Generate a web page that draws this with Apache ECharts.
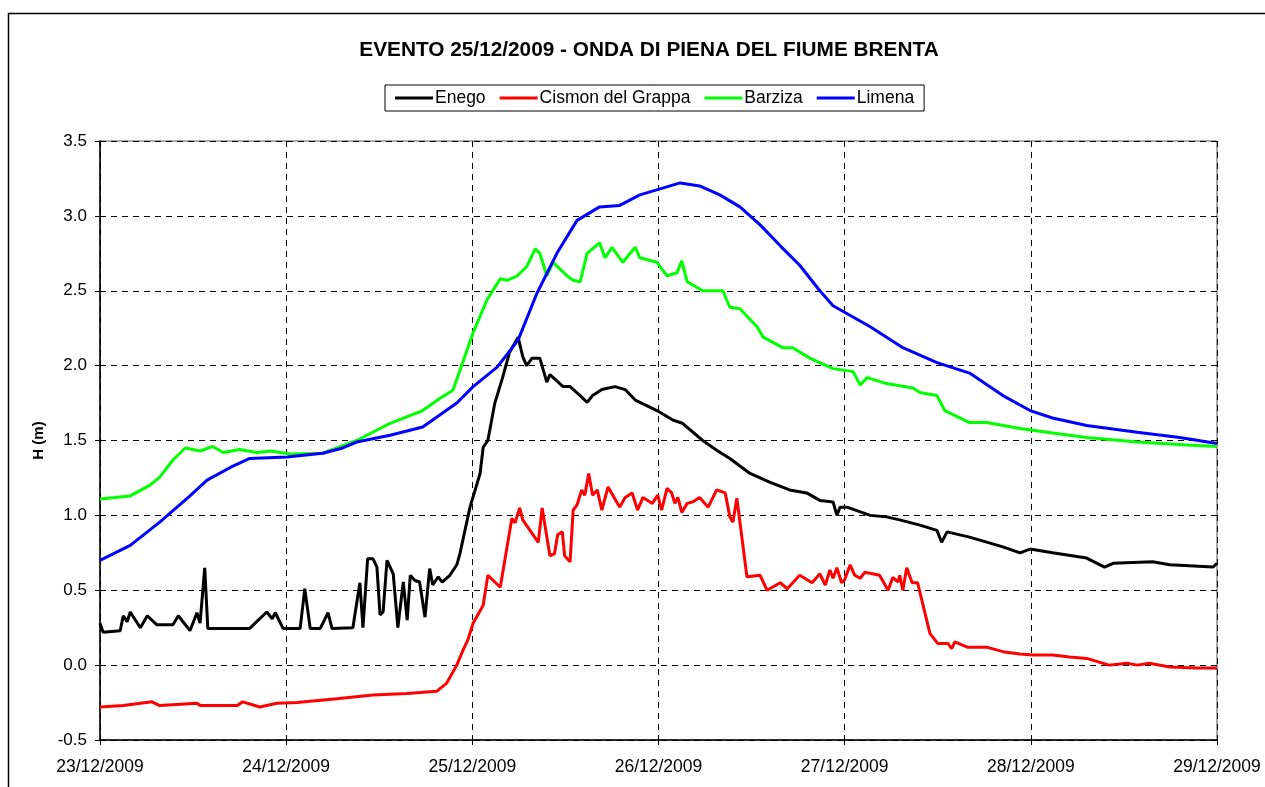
<!DOCTYPE html>
<html>
<head>
<meta charset="utf-8">
<title>Evento 25/12/2009</title>
<script src="https://cdn.jsdelivr.net/npm/echarts@6/dist/echarts.min.js"></script>
<style>
  html, body { margin: 0; padding: 0; background: #fff; }
  #chart { width: 1265px; height: 787px; }
</style>
</head>
<body>
<div id="chart"></div>
<script>
// x in ore dall'inizio (23/12/2009 00:00), y = livello H (m)
var dateLabels = ['23/12/2009', '24/12/2009', '25/12/2009', '26/12/2009', '27/12/2009', '28/12/2009', '29/12/2009'];
var seriesNames = ['Enego', 'Cismon del Grappa', 'Barziza', 'Limena'];

var enego = [[0,0.28],[0.4,0.22],[2.6,0.23],[3.0,0.33],[3.5,0.29],[3.9,0.355],[5.2,0.25],[6.1,0.33],[7.3,0.27],[9.4,0.27],
  [10.1,0.33],[11.6,0.23],[12.5,0.35],[12.9,0.28],[13.5,0.65],[13.9,0.245],[19.3,0.245],[21.5,0.355],[22.2,0.31],[22.6,0.35],
  [23.6,0.245],[25.8,0.245],[26.4,0.51],[27.1,0.245],[28.4,0.245],[29.4,0.35],[29.9,0.245],[32.6,0.25],[33.5,0.55],[33.9,0.25],
  [34.5,0.71],[35.2,0.71],[35.7,0.655],[36.1,0.335],[36.5,0.355],[37.0,0.70],[37.8,0.61],[38.4,0.25],[39.1,0.555],[39.6,0.30],
  [40.0,0.60],[40.6,0.565],[41.2,0.555],[41.9,0.32],[42.5,0.645],[42.9,0.535],[43.6,0.59],[44.1,0.555],[45.1,0.60],[46.0,0.67],
  [46.4,0.745],[47.7,1.055],[49.0,1.28],[49.4,1.455],[50.0,1.50],[50.9,1.75],[51.9,1.92],[52.8,2.09],[53.9,2.19],[54.5,2.06],
  [55.0,2.00],[55.7,2.05],[56.7,2.05],[57.6,1.89],[58.0,1.94],[59.7,1.86],[60.6,1.86],[61.9,1.80],[62.8,1.755],[63.5,1.80],
  [64.7,1.84],[66.4,1.86],[67.7,1.84],[69.0,1.77],[71.8,1.70],[73.9,1.635],[75.1,1.615],[77.7,1.50],[79.5,1.435],[81.2,1.38],
  [83.8,1.28],[86.4,1.22],[88.9,1.17],[91.1,1.15],[92.8,1.10],[94.5,1.09],[95.0,1.00],[95.4,1.055],[96.3,1.055],[99.3,1.00],
  [101.4,0.99],[103.1,0.97],[105.7,0.935],[107.9,0.90],[108.5,0.82],[109.2,0.89],[112.1,0.855],[116.4,0.79],[118.6,0.75],
  [119.9,0.775],[122.8,0.75],[127.2,0.715],[129.5,0.655],[130.6,0.68],[135.7,0.69],[137.9,0.67],[143.5,0.655],[144,0.68]];

var cismon = [[0,-0.28],[3.0,-0.27],[6.7,-0.245],[7.7,-0.27],[12.5,-0.255],[12.9,-0.27],[17.7,-0.27],[18.4,-0.245],[20.6,-0.28],
  [22.8,-0.255],[25.4,-0.25],[30.5,-0.225],[35.2,-0.20],[39.6,-0.19],[43.4,-0.175],[44.7,-0.12],[46.0,0.0],[46.8,0.10],[47.4,0.165],
  [48.1,0.28],[49.4,0.40],[50.0,0.60],[51.6,0.52],[53.1,0.98],[53.5,0.95],[54.1,1.05],[54.5,0.97],[55.7,0.88],[56.5,0.82],
  [57.0,1.05],[58.0,0.73],[58.6,0.745],[59.0,0.87],[59.6,0.89],[59.9,0.73],[60.6,0.69],[61.0,1.035],[61.5,1.07],[62.1,1.17],
  [62.5,1.135],[63.0,1.28],[63.5,1.135],[64.1,1.17],[64.7,1.035],[65.5,1.19],[67.0,1.055],[67.7,1.12],[68.6,1.15],[69.3,1.035],
  [70.0,1.12],[71.2,1.08],[71.9,1.135],[72.4,1.035],[73.1,1.18],[73.7,1.15],[74.1,1.08],[74.5,1.12],[75.0,1.02],[75.7,1.08],
  [76.4,1.09],[77.3,1.12],[78.4,1.055],[79.5,1.17],[80.6,1.15],[81.2,0.99],[81.6,0.955],[82.1,1.115],[83.4,0.59],[85.1,0.60],
  [86.0,0.50],[87.7,0.55],[88.6,0.51],[90.2,0.60],[91.8,0.55],[92.8,0.61],[93.5,0.535],[94.1,0.635],[94.5,0.58],[95.0,0.65],
  [95.6,0.55],[96.0,0.57],[96.7,0.67],[97.3,0.60],[98.0,0.58],[98.6,0.62],[100.5,0.60],[101.6,0.50],[102.2,0.585],[102.9,0.555],
  [103.1,0.60],[103.5,0.50],[104.0,0.65],[104.7,0.55],[105.4,0.55],[107.0,0.21],[108.0,0.145],[109.3,0.145],[109.8,0.11],
  [110.2,0.155],[111.8,0.12],[114.3,0.12],[116.4,0.09],[118.6,0.075],[120.3,0.067],[122.8,0.067],[125.0,0.055],[127.2,0.045],
  [130.1,0.0],[132.4,0.013],[133.7,0.0],[135.3,0.013],[137.9,-0.013],[141.4,-0.02],[144,-0.02]];

var barziza = [[0,1.11],[3.9,1.13],[6.4,1.20],[7.7,1.255],[9.4,1.37],[11.0,1.45],[12.9,1.43],[14.5,1.46],[15.9,1.42],[18.0,1.44],
  [20.2,1.42],[22.0,1.43],[24.5,1.41],[28.7,1.415],[33.1,1.50],[37.4,1.615],[41.6,1.70],[43.8,1.78],[45.5,1.835],[48.1,2.22],
  [49.9,2.44],[51.6,2.58],[52.5,2.57],[53.8,2.60],[55.0,2.66],[56.1,2.78],[56.7,2.75],[57.6,2.60],[58.4,2.69],[60.2,2.60],
  [61.0,2.57],[61.9,2.56],[62.8,2.75],[64.4,2.82],[65.1,2.72],[66.0,2.79],[67.4,2.69],[69.0,2.79],[69.6,2.72],[71.8,2.69],
  [73.1,2.60],[74.4,2.62],[75.0,2.70],[75.7,2.56],[77.7,2.50],[80.3,2.50],[81.2,2.39],[82.5,2.38],[84.7,2.26],[85.5,2.19],
  [88.0,2.12],[89.3,2.12],[91.5,2.05],[94.5,1.98],[97.1,1.96],[98.0,1.87],[98.9,1.92],[101.4,1.88],[104.8,1.85],[105.7,1.82],
  [107.9,1.80],[108.9,1.70],[110.9,1.65],[112.1,1.62],[114.3,1.62],[118.6,1.58],[122.8,1.55],[127.2,1.52],[133.7,1.49],
  [140.1,1.47],[144,1.46]];

var limena = [[0,0.70],[3.9,0.80],[7.7,0.955],[11.6,1.13],[13.8,1.235],[16.8,1.32],[19.3,1.38],[24.1,1.39],[28.7,1.415],
  [31.3,1.45],[33.1,1.49],[37.4,1.535],[41.6,1.59],[43.8,1.67],[46.0,1.75],[48.1,1.86],[51.2,1.99],[53.9,2.17],[56.3,2.48],
  [58.9,2.75],[61.5,2.97],[64.4,3.06],[67.0,3.07],[69.6,3.14],[72.2,3.18],[74.8,3.22],[77.3,3.20],[79.9,3.14],[82.5,3.06],
  [85.1,2.94],[87.7,2.80],[90.2,2.67],[92.8,2.50],[94.5,2.40],[99.3,2.26],[103.5,2.12],[107.9,2.02],[112.1,1.95],[116.4,1.80],
  [119.9,1.70],[122.8,1.65],[127.2,1.60],[133.7,1.555],[139.2,1.52],[144,1.48]];

var colors = ['#000000', '#ff0000', '#00ff00', '#0000ff'];
var allData = [enego, cismon, barziza, limena];

var myChart = echarts.init(document.getElementById('chart'));

var series = seriesNames.map(function (name, i) {
    return {
        name: name,
        type: 'line',
        data: allData[i],
        showSymbol: false,
        symbol: 'none',
        lineStyle: { width: 3, color: colors[i] },
        itemStyle: { color: colors[i] },
        animation: false
    };
});

myChart.setOption({
    backgroundColor: '#fff',
    textStyle: { fontFamily: 'Liberation Sans, Arial, sans-serif' },
    graphic: [{
        type: 'rect',
        shape: { x: 8.5, y: 13.5, width: 1300, height: 800 },
        style: { fill: 'none', stroke: '#000', lineWidth: 1.5 },
        silent: true
    }],
    title: {
        text: 'EVENTO 25/12/2009 - ONDA DI PIENA DEL FIUME BRENTA',
        left: 644,
        textAlign: 'center',
        top: 35,
        textStyle: { fontSize: 20.8, fontWeight: 'bold', color: '#000', fontFamily: 'Liberation Sans, Arial, sans-serif' }
    },
    legend: {
        data: seriesNames,
        top: 85,
        left: 385,
        icon: 'rect',
        itemWidth: 38,
        itemHeight: 3,
        itemGap: 14,
        padding: [4, 10, 4, 10],
        borderColor: '#000',
        borderWidth: 1,
        borderRadius: 0,
        textStyle: { fontSize: 17.5, color: '#000', padding: [0, 0, 0, -3] }
    },
    grid: {
        left: 100, right: 48, top: 141, bottom: 47,
        show: true, borderColor: '#555', borderWidth: 1
    },
    xAxis: {
        type: 'value',
        min: 0, max: 144, interval: 24,
        axisLine: { onZero: false, lineStyle: { color: '#000', width: 1.5 } },
        axisTick: { show: true, length: 5, lineStyle: { color: '#000' } },
        axisLabel: {
            color: '#000', fontSize: 17.5, margin: 18,
            formatter: function (v) { return dateLabels[Math.round(v / 24)]; }
        },
        splitLine: { show: true, lineStyle: { color: '#000', type: [6, 5], width: 1 } }
    },
    yAxis: {
        type: 'value',
        min: -0.5, max: 3.5, interval: 0.5,
        name: 'H (m)',
        nameLocation: 'middle',
        nameGap: 52,
        nameTextStyle: { fontSize: 15, fontWeight: 'bold', color: '#000' },
        axisLine: { show: true, lineStyle: { color: '#000', width: 1.5 } },
        axisTick: { show: true, length: 5, lineStyle: { color: '#000' } },
        axisLabel: {
            color: '#000', fontSize: 17, margin: 13,
            formatter: function (v) { return v.toFixed(1); }
        },
        splitLine: { show: true, lineStyle: { color: '#000', type: [6, 5], width: 1 } }
    },
    series: series
});
</script>
</body>
</html>
